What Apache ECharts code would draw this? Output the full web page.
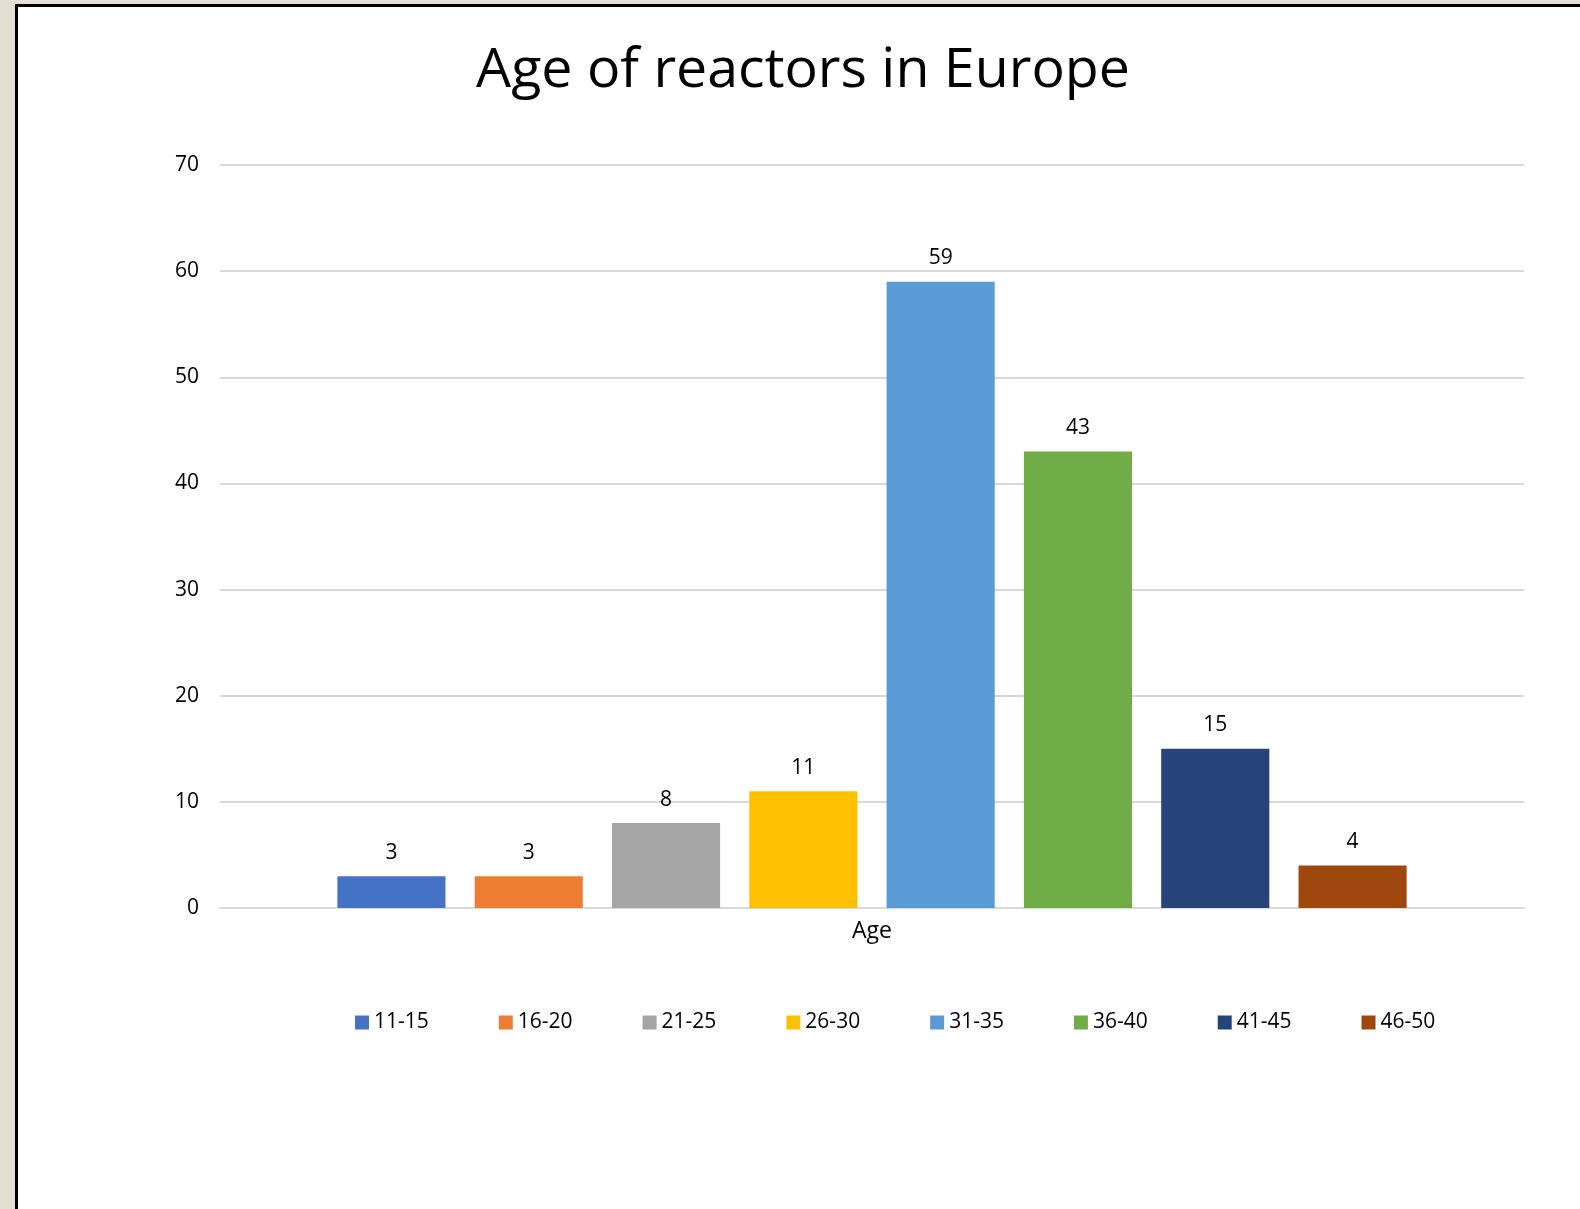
<!DOCTYPE html>
<html>
<head>
<meta charset="utf-8">
<script src="https://cdn.jsdelivr.net/npm/echarts@6/dist/echarts.min.js"></script>
<style>
html,body{margin:0;padding:0;width:1580px;height:1209px;overflow:hidden;background:#E4DFD4;}
#frame{position:absolute;left:15px;top:4px;width:1565px;height:1205px;background:#fff;border-left:3px solid #000;border-top:3px solid #000;box-sizing:border-box;}
#chart{position:absolute;left:0;top:0;width:1580px;height:1209px;}
</style>
</head>
<body>
<div id="frame"></div>
<div id="chart"></div>
<script>
const categories = ['Age'];
const seriesNames = ['11-15','16-20','21-25','26-30','31-35','36-40','41-45','46-50'];
const seriesValues = [3, 3, 8, 11, 59, 43, 15, 4];
const colors = ['#4472C4','#ED7D31','#A5A5A5','#FFC000','#5B9BD5','#70AD47','#264478','#9E480E'];
const yTicks = [0,10,20,30,40,50,60,70];

const font = 'Open Sans, Noto Sans, sans-serif';
const chart = echarts.init(document.getElementById('chart'), null, {renderer:'canvas'});
chart.setOption({
  backgroundColor: 'transparent',
  animation: false,
  title: {
    text: 'Age of reactors in Europe',
    left: 798,
    textAlign: 'center',
    top: 38,
    textStyle: {fontFamily: font, fontSize: 55.5, fontWeight: 'normal', color: '#000'}
  },
  grid: {left: 220, right: 56, top: 165, bottom: 301, containLabel: false},
  legend: {
    bottom: 171,
    left: 350,
    itemWidth: 14,
    itemHeight: 14,
    itemGap: 70,
    icon: 'rect',
    textStyle: {fontFamily: font, fontSize: 21, color: '#000'},
    data: seriesNames
  },
  xAxis: {
    type: 'category',
    data: categories,
    axisLine: {show: true, lineStyle: {color: '#D9D9D9', width: 2}},
    axisTick: {show: false},
    axisLabel: {fontFamily: font, fontSize: 23, color: '#000', margin: 12}
  },
  yAxis: {
    type: 'value',
    min: yTicks[0],
    max: yTicks[yTicks.length-1],
    interval: 10,
    axisLine: {show: false},
    axisTick: {show: false},
    axisLabel: {fontFamily: font, fontSize: 21, color: '#000', margin: 21},
    splitLine: {lineStyle: {color: '#D9D9D9', width: 2}}
  },
  series: seriesNames.map((name, i) => ({
    name: name,
    type: 'bar',
    data: [seriesValues[i]],
    barGap: '27%',
    barCategoryGap: '18%',
    itemStyle: {color: colors[i]},
    label: {show: true, position: 'top', distance: 13, fontFamily: font, fontSize: 21, color: '#000'}
  }))
});
</script>
</body>
</html>
